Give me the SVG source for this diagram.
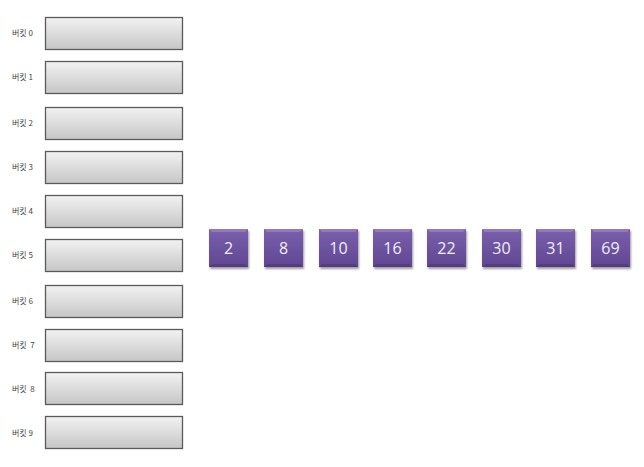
<svg xmlns="http://www.w3.org/2000/svg" width="644" height="467" viewBox="0 0 644 467">
<defs>
<linearGradient id="gb" x1="0" y1="0" x2="0" y2="1">
<stop offset="0" stop-color="#f2f2f2"/>
<stop offset="1" stop-color="#c6c6c6"/>
</linearGradient>
<linearGradient id="gp" x1="0" y1="0" x2="0" y2="1">
<stop offset="0" stop-color="#7a5fac"/>
<stop offset="1" stop-color="#604792"/>
</linearGradient>
<filter id="sh" x="-20%" y="-20%" width="140%" height="140%">
<feGaussianBlur in="SourceAlpha" stdDeviation="1.2"/>
<feOffset dx="0.5" dy="1.5"/>
<feComponentTransfer><feFuncA type="linear" slope="0.4"/></feComponentTransfer>
<feMerge><feMergeNode/><feMergeNode in="SourceGraphic"/></feMerge>
</filter>
</defs>
<style>
.bk{fill:url(#gb);stroke:#5a5a5a;stroke-width:1.3}
.lb{font-family:"Noto Sans CJK KR","Liberation Sans",sans-serif;font-size:8px;fill:#444}
.sq{fill:url(#gp);filter:url(#sh)}
.bv{fill:#ffffff;fill-opacity:0.18}
.bd{fill:#000000;fill-opacity:0.15}
.nt{font-family:"Open Sans","Liberation Sans",sans-serif;font-size:16px;fill:#f0eef5;text-anchor:middle}
</style>
<g id="bucket0"><rect class="bk" x="45.5" y="17.5" width="137" height="32"/><text class="lb" x="12" y="36">버킷 0</text></g>
<g id="bucket1"><rect class="bk" x="45.5" y="61.5" width="137" height="32"/><text class="lb" x="12" y="80">버킷 1</text></g>
<g id="bucket2"><rect class="bk" x="45.5" y="107.5" width="137" height="32"/><text class="lb" x="12" y="126">버킷 2</text></g>
<g id="bucket3"><rect class="bk" x="45.5" y="151.5" width="137" height="32"/><text class="lb" x="12" y="170">버킷 3</text></g>
<g id="bucket4"><rect class="bk" x="45.5" y="195.5" width="137" height="32"/><text class="lb" x="12" y="214">버킷 4</text></g>
<g id="bucket5"><rect class="bk" x="45.5" y="239.5" width="137" height="32"/><text class="lb" x="12" y="258">버킷 5</text></g>
<g id="bucket6"><rect class="bk" x="45.5" y="285.5" width="137" height="32"/><text class="lb" x="12" y="304">버킷 6</text></g>
<g id="bucket7"><rect class="bk" x="45.5" y="329.5" width="137" height="32"/><text class="lb" x="12" y="348" xml:space="preserve">버킷  7</text></g>
<g id="bucket8"><rect class="bk" x="45.5" y="372.5" width="137" height="32"/><text class="lb" x="12" y="392" xml:space="preserve">버킷  8</text></g>
<g id="bucket9"><rect class="bk" x="45.5" y="416.5" width="137" height="32"/><text class="lb" x="12" y="436">버킷 9</text></g>
<g id="connectors"/>
<g id="n2" transform="translate(209,229)"><rect class="sq" width="39" height="38"/><polygon class="bv" points="0,0 39,0 36,3 3,3"/><polygon class="bd" points="0,38 39,38 36,35 3,35"/><text class="nt" x="19.5" y="25">2</text></g>
<g id="n8" transform="translate(264,229)"><rect class="sq" width="39" height="38"/><polygon class="bv" points="0,0 39,0 36,3 3,3"/><polygon class="bd" points="0,38 39,38 36,35 3,35"/><text class="nt" x="19.5" y="25">8</text></g>
<g id="n10" transform="translate(319,229)"><rect class="sq" width="39" height="38"/><polygon class="bv" points="0,0 39,0 36,3 3,3"/><polygon class="bd" points="0,38 39,38 36,35 3,35"/><text class="nt" x="19.5" y="25">10</text></g>
<g id="n16" transform="translate(373,229)"><rect class="sq" width="39" height="38"/><polygon class="bv" points="0,0 39,0 36,3 3,3"/><polygon class="bd" points="0,38 39,38 36,35 3,35"/><text class="nt" x="19.5" y="25">16</text></g>
<g id="n22" transform="translate(427,229)"><rect class="sq" width="39" height="38"/><polygon class="bv" points="0,0 39,0 36,3 3,3"/><polygon class="bd" points="0,38 39,38 36,35 3,35"/><text class="nt" x="19.5" y="25">22</text></g>
<g id="n30" transform="translate(482,229)"><rect class="sq" width="39" height="38"/><polygon class="bv" points="0,0 39,0 36,3 3,3"/><polygon class="bd" points="0,38 39,38 36,35 3,35"/><text class="nt" x="19.5" y="25">30</text></g>
<g id="n31" transform="translate(536,229)"><rect class="sq" width="39" height="38"/><polygon class="bv" points="0,0 39,0 36,3 3,3"/><polygon class="bd" points="0,38 39,38 36,35 3,35"/><text class="nt" x="19.5" y="25">31</text></g>
<g id="n69" transform="translate(591,229)"><rect class="sq" width="39" height="38"/><polygon class="bv" points="0,0 39,0 36,3 3,3"/><polygon class="bd" points="0,38 39,38 36,35 3,35"/><text class="nt" x="19.5" y="25">69</text></g>
</svg>
